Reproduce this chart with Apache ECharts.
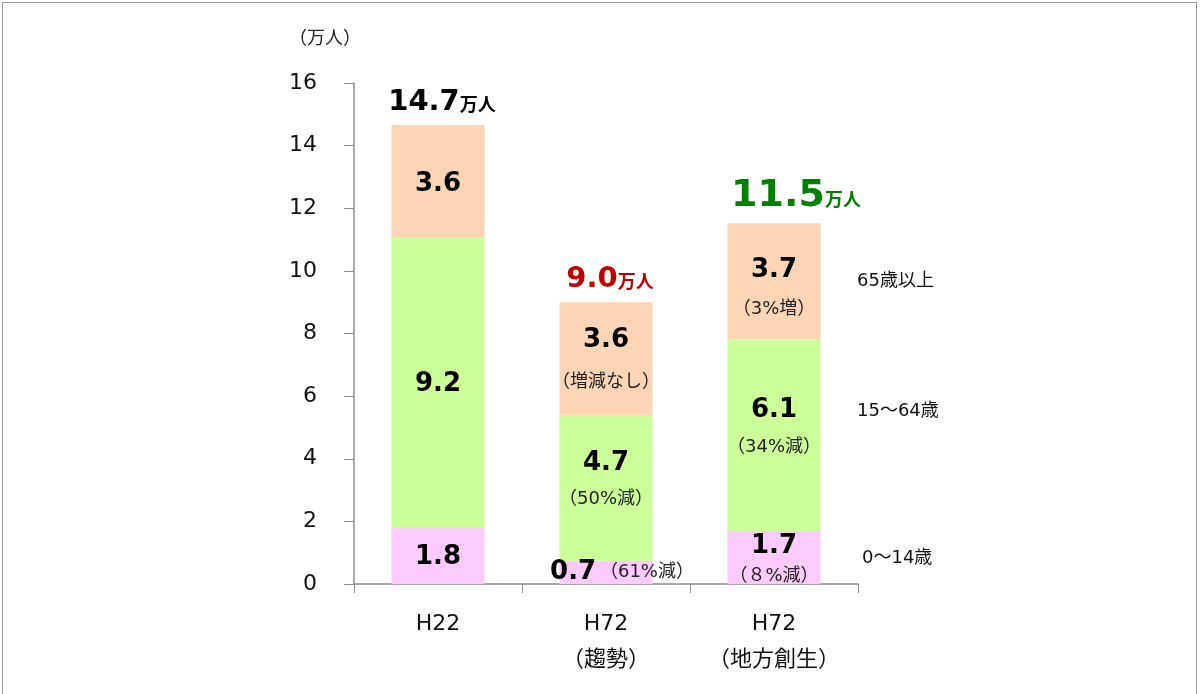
<!DOCTYPE html>
<html>
<head>
<meta charset="utf-8">
<script src="https://cdn.jsdelivr.net/npm/echarts@6/dist/echarts.min.js"></script>
<style>
  html, body { margin: 0; padding: 0; background: #fff; }
  #frame { position: absolute; left: 2px; top: 2px; width: 1193px; height: 700px; border: 1px solid #9a9a9a; }
  #main { position: absolute; left: 0; top: 0; width: 1200px; height: 694px; }
</style>
</head>
<body>
<div id="frame"></div>
<div id="main"></div>
<script>
// categories and values (万人)
const categories = ['H22', 'H72\n（趨勢）', 'H72\n（地方創生）']
const age0to14 = [1.82, 0.74, 1.69]
const age15to64 = [9.26, 4.66, 6.13]
const age65plus = [3.58, 3.60, 3.70]

const age0to14Text = ['1.8', '0.7', '1.7']
const age0to14Note = ['', '（61%減）', '（８%減）']
const age15to64Text = ['9.2', '4.7', '6.1']
const age15to64Note = ['', '（50%減）', '（34%減）']
const age65plusText = ['3.6', '3.6', '3.7']
const age65plusNote = ['', '（増減なし）', '（3%増）']

const totalText = ['14.7', '9.0', '11.5']
const totalColor = ['#000000', '#c00000', '#008000']
const totalSize = [29, 29, 38]

const groupNames = ['65歳以上', '15～64歳', '0～14歳']
const yTicks = [0, 2, 4, 6, 8, 10, 12, 14, 16]

const FONT = '"DejaVu Sans", "Noto Sans CJK JP", sans-serif'

const vStyle = { fontSize: 26, fontWeight: 'bold', color: '#000', fontFamily: FONT }
const sStyle = { fontSize: 18, color: '#222', fontFamily: FONT }

function rich (vLine, sLine) {
  return {
    v: Object.assign({}, vStyle, { lineHeight: vLine }),
    s: Object.assign({}, sStyle, { lineHeight: sLine })
  }
}

function segData (values, texts, notes, offsets, lines) {
  return values.map((v, i) => ({
    value: v,
    label: {
      formatter: notes[i] ? '{v|' + texts[i] + '}\n{s|' + notes[i] + '}' : '{v|' + texts[i] + '}',
      offset: offsets[i],
      rich: rich(lines[i][0], lines[i][1])
    }
  }))
}

const chart = echarts.init(document.getElementById('main'))

const pinkData = segData(age0to14, age0to14Text, age0to14Note,
  [[0, 2], [16, 0], [0, 4]], [[40, 30], [40, 30], [30, 30]])
// the 0.7 label sits on one line
pinkData[1].label.formatter = '{v|' + age0to14Text[1] + '} {s|' + age0to14Note[1] + '}'

const greenData = segData(age15to64, age15to64Text, age15to64Note,
  [[0, 2], [0, -8], [0, -8]], [[40, 30], [38, 34], [40, 34]])

const orangeData = segData(age65plus, age65plusText, age65plusNote,
  [[0, 3], [0, 2], [0, 7]], [[40, 30], [44, 40], [42, 36]])

const option = {
  animation: false,
  textStyle: { fontFamily: FONT },
  title: {
    text: '（万人）',
    left: 284,
    top: 25,
    textStyle: { fontSize: 18, fontWeight: 'normal', color: '#222', fontFamily: FONT }
  },
  grid: { left: 354, right: 342, top: 83, bottom: 110 },
  xAxis: {
    type: 'category',
    data: categories,
    axisLine: { lineStyle: { color: '#8c8c8c', width: 1.5 } },
    axisTick: { show: true, interval: 0, length: 9, lineStyle: { color: '#8c8c8c' } },
    axisLabel: { interval: 0, fontSize: 22, color: '#111', margin: 22, lineHeight: 36, fontFamily: FONT }
  },
  yAxis: {
    type: 'value',
    min: 0,
    max: 16,
    interval: 2,
    splitLine: { show: false },
    axisLine: { show: true, lineStyle: { color: '#8c8c8c', width: 1.5 } },
    axisTick: { show: true, length: 10, lineStyle: { color: '#8c8c8c' } },
    axisLabel: {
      fontSize: 22, color: '#111', margin: 37, fontFamily: FONT,
      formatter: v => (yTicks.indexOf(v) >= 0 ? String(v) : '')
    }
  },
  series: [
    {
      name: '0～14歳',
      type: 'bar',
      stack: 'pop',
      barWidth: 93,
      itemStyle: { color: '#fdcafd' },
      label: { show: true, position: 'inside' },
      data: pinkData
    },
    {
      name: '15～64歳',
      type: 'bar',
      stack: 'pop',
      itemStyle: { color: '#ccff99' },
      label: { show: true, position: 'inside' },
      data: greenData
    },
    {
      name: '65歳以上',
      type: 'bar',
      stack: 'pop',
      itemStyle: { color: '#fcd5b5' },
      label: { show: true, position: 'inside' },
      data: orangeData
    },
    {
      name: 'total',
      type: 'bar',
      stack: 'pop',
      itemStyle: { color: 'transparent' },
      label: {
        show: true,
        position: 'top',
        distance: 8,
        formatter: p => '{n' + p.dataIndex + '|' + totalText[p.dataIndex] + '}{u' + p.dataIndex + '|万人}',
        rich: totalText.reduce((acc, t, i) => {
          acc['n' + i] = { fontSize: totalSize[i], fontWeight: 'bold', color: totalColor[i], fontFamily: FONT }
          acc['u' + i] = { fontSize: 18, fontWeight: 'bold', color: totalColor[i], fontFamily: FONT, padding: [totalSize[i] * 0.25, 0, 0, 0] }
          return acc
        }, {})
      },
      data: [
        { value: 0, label: { offset: [4, 0] } },
        { value: 0, label: { offset: [4, 0] } },
        { value: 0, label: { offset: [22, 0] } }
      ]
    }
  ]
}

chart.setOption(option)

// age group names beside the last bar
const nameY = [283, 413, 560]
const nameX = [857, 857, 862]
chart.setOption({
  graphic: groupNames.map((t, i) => ({
    type: 'text',
    left: nameX[i],
    top: nameY[i] - 11,
    style: { text: t, fontSize: 18, fill: '#111', fontFamily: FONT }
  }))
})
</script>
</body>
</html>
